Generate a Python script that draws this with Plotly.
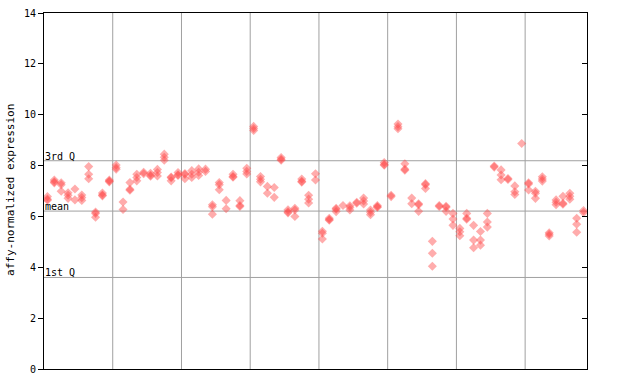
import plotly.graph_objects as go

# replicate values per sample column (None = no replicate)
rep_a = [6.78, 7.43, 7.32, 6.93, 7.08, 6.84, 7.96, 6.17, 6.92, 7.43,
         8.02, 6.57, 7.33, 7.66, 7.74, 7.70, 7.85, 8.45, 7.55, 7.73,
         7.69, 7.80, 7.87, 7.86, 6.46, 7.33, 6.63, 7.66, 6.62, 7.89,
         9.54, 7.57, 7.18, 7.14, 8.32, 6.26, 6.32, 7.47, 6.83, 7.68,
         5.42, 5.93, 6.32, 6.43, 6.42, 6.56, 6.72, 6.25, 6.43, 8.12,
         6.83, 9.63, 8.07, 6.72, 6.50, 7.29, 5.02, 6.43, 6.40, 6.12,
         5.53, 6.12, 5.65, 5.41, 6.12, 7.98, 7.83, 7.49, 7.20, 8.87,
         7.32, 6.99, 7.56, 5.36, 6.65, 6.79, 6.91, 5.93, 6.23]
rep_b = [6.68, 7.36, 7.25, 6.83, 6.65, 6.74, 7.66, 6.12, 6.84, 7.39,
         7.92, 6.27, 7.07, 7.53, 7.68, 7.62, 7.73, 8.33, 7.52, 7.64,
         7.65, 7.66, 7.74, 7.77, 6.38, 7.25, 6.30, 7.57, 6.43, 7.77,
         9.46, 7.46, 6.91, 6.75, 8.25, 6.18, 6.25, 7.38, 6.68, 7.43,
         5.34, 5.88, 6.28, None, 6.35, 6.52, 6.61, 6.16, 6.38, 8.04,
         6.78, 9.53, 7.86, 6.50, 6.46, 7.25, 4.55, 6.39, 6.36, 5.90,
         5.40, 5.93, 5.07, 5.07, 5.78, 7.94, 7.63, 7.45, 6.97, None,
         7.28, 6.91, 7.47, 5.30, 6.56, 6.52, 6.79, 5.69, 6.15]
rep_c = [6.64, 7.32, 6.99, 6.71, None, 6.63, 7.48, 5.97, 6.81, 7.36,
         7.86, None, 7.03, 7.40, None, 7.58, 7.59, 8.21, 7.40, 7.61,
         7.48, 7.53, 7.61, None, 6.09, 7.05, None, 7.54, 6.39, 7.67,
         9.38, 7.36, None, None, 8.21, 6.14, 6.00, 7.35, 6.53, None,
         5.11, 5.85, 6.19, None, 6.25, None, 6.49, 6.07, 6.36, 8.01,
         None, 9.45, 7.82, None, 6.20, 7.10, 4.04, None, 6.20, 5.65,
         5.24, 5.89, 4.77, 4.87, 5.58, None, 7.44, None, 6.86, None,
         7.04, 6.71, 7.39, 5.23, 6.46, 6.48, 6.68, 5.38, None]

quartile_names = ["3rd Q", "mean", "1st Q"]
quartile_values = [8.19, 6.21, 3.60]
y_ticks = [0, 2, 4, 6, 8, 10, 12, 14]
group_size = 10

n = len(rep_a)
xs, ys = [], []
for reps in (rep_a, rep_b, rep_c):
    for i, v in enumerate(reps):
        if v is not None:
            xs.append(i)
            ys.append(v)

font_mono = "DejaVu Sans Mono"
grey = "#a0a0a0"

fig = go.Figure()
fig.add_trace(go.Scatter(
    x=xs, y=ys, mode="markers",
    marker=dict(symbol="diamond", size=7, color="rgba(255,70,70,0.45)",
                line=dict(width=0)),
    showlegend=False, hoverinfo="y"))
# invisible trace for right-hand axis
fig.add_trace(go.Scatter(x=[0], y=[0], yaxis="y2", mode="markers",
                         marker=dict(opacity=0), showlegend=False,
                         hoverinfo="skip"))

shapes = []
for k in range(1, (n - 1) // group_size + 1):
    xv = k * group_size - 0.5
    if xv < n - 0.5:
        shapes.append(dict(type="line", xref="x", yref="paper", x0=xv, x1=xv,
                           y0=0, y1=1, line=dict(color=grey, width=1),
                           layer="below"))
annotations = []
for name, val in zip(quartile_names, quartile_values):
    shapes.append(dict(type="line", xref="paper", yref="y", x0=0, x1=1,
                       y0=val, y1=val, line=dict(color=grey, width=1),
                       layer="below"))
    annotations.append(dict(text=name, xref="paper", yref="y", x=0, y=val,
                            xanchor="left", yanchor="bottom", showarrow=False,
                            font=dict(family=font_mono, size=10, color="black"),
                            xshift=-1, yshift=-3))
annotations.append(dict(text="affy-normalized expression", xref="paper",
                        yref="paper", x=0, y=0.503, xanchor="center",
                        yanchor="middle", textangle=-90, xshift=-33,
                        showarrow=False,
                        font=dict(family=font_mono, size=11, color="black")))

fig.update_layout(
    width=640, height=384,
    margin=dict(l=44, r=53, t=13, b=15, autoexpand=False),
    paper_bgcolor="white", plot_bgcolor="white",
    shapes=shapes, annotations=annotations,
    xaxis=dict(range=[-0.5, n - 0.5], showgrid=False, zeroline=False,
               showticklabels=False, ticks="", showline=True,
               linecolor="black", linewidth=1, mirror=True,
               automargin=False),
    yaxis=dict(range=[0, 14], tickvals=y_ticks, showgrid=False,
               zeroline=False, ticks="outside", ticklen=5,
               tickcolor="black", showline=True, linecolor="black",
               linewidth=1, automargin=False,
               tickfont=dict(family=font_mono, size=10, color="black")),
    yaxis2=dict(range=[0, 14], tickvals=y_ticks, overlaying="y",
                side="right", showgrid=False, zeroline=False,
                ticks="inside", ticklen=5, tickcolor="black",
                showticklabels=False, showline=True, linecolor="black",
                linewidth=1, automargin=False),
)

fig.write_html("out.html", config={"displayModeBar": False},
               post_script="document.body.style.margin='0';")
